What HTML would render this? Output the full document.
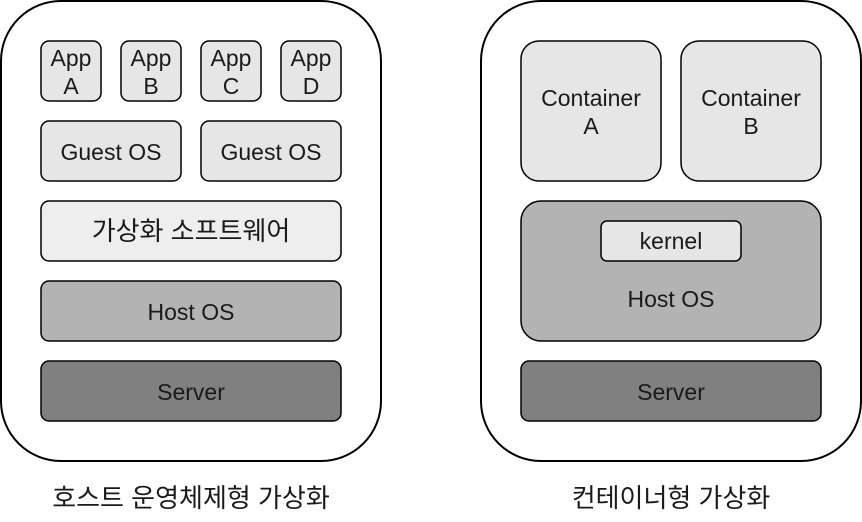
<!DOCTYPE html>
<html><head><meta charset="utf-8"><style>body{margin:0;background:#fff}svg{display:block}text{font-family:"Liberation Sans","Noto Sans CJK KR",sans-serif;fill:#1a1a1a;text-anchor:middle}.k{font-size:26px}</style></head><body>
<svg width="862" height="522" viewBox="0 0 862 522" xmlns="http://www.w3.org/2000/svg">
<g stroke="#000" stroke-width="2">
<rect x="1" y="1" width="380" height="460" rx="60" fill="#fff"/>
<rect x="481" y="1" width="380" height="460" rx="60" fill="#fff"/>
</g>
<g stroke="#000" stroke-width="1.5">
<rect x="41" y="41" width="60" height="60" rx="8" fill="#e6e6e6"/>
<rect x="121" y="41" width="60" height="60" rx="8" fill="#e6e6e6"/>
<rect x="201" y="41" width="60" height="60" rx="8" fill="#e6e6e6"/>
<rect x="281" y="41" width="60" height="60" rx="8" fill="#e6e6e6"/>
<rect x="41" y="121" width="140" height="60" rx="8" fill="#e6e6e6"/>
<rect x="201" y="121" width="140" height="60" rx="8" fill="#e6e6e6"/>
<rect x="41" y="201" width="300" height="60" rx="8" fill="#eeeeee"/>
<rect x="41" y="281" width="300" height="60" rx="8" fill="#b3b3b3"/>
<rect x="41" y="361" width="300" height="60" rx="8" fill="#808080"/>
<rect x="521" y="41" width="140" height="140" rx="18" fill="#e6e6e6"/>
<rect x="681" y="41" width="140" height="140" rx="18" fill="#e6e6e6"/>
<rect x="521" y="201" width="300" height="140" rx="20" fill="#b3b3b3"/>
<rect x="601" y="221" width="140" height="40" rx="6" fill="#e6e6e6"/>
<rect x="521" y="361" width="300" height="60" rx="8" fill="#808080"/>
</g>
<g font-size="23">
<text x="71" y="66">App</text><text x="71" y="94">A</text>
<text x="151" y="66">App</text><text x="151" y="94">B</text>
<text x="231" y="66">App</text><text x="231" y="94">C</text>
<text x="311" y="66">App</text><text x="311" y="94">D</text>
<text x="111" y="160">Guest OS</text>
<text x="271" y="160">Guest OS</text>
<text x="191" y="240" class="k">가상화 소프트웨어</text>
<text x="191" y="320">Host OS</text>
<text x="191" y="400">Server</text>
<text x="591" y="106">Container</text><text x="591" y="134">A</text>
<text x="751" y="106">Container</text><text x="751" y="134">B</text>
<text x="671" y="249">kernel</text>
<text x="671" y="307">Host OS</text>
<text x="671" y="400">Server</text>
<text x="191" y="507" class="k">호스트 운영체제형 가상화</text>
<text x="671" y="507" class="k">컨테이너형 가상화</text>
</g>
</svg>
</body></html>
